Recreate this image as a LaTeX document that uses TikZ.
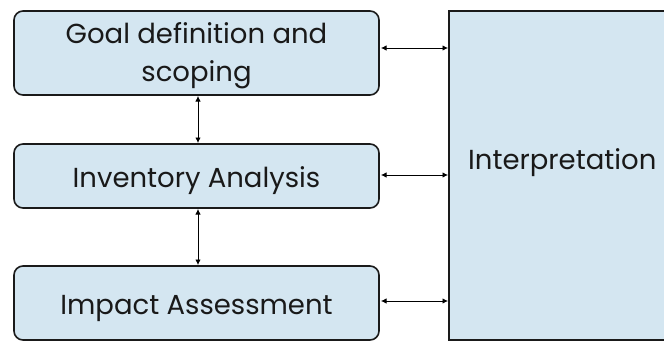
\documentclass[tikz,border=0pt]{standalone}
\usepackage{fontspec}
\setmainfont{Poppins}
\usetikzlibrary{arrows.meta}
\definecolor{boxfill}{HTML}{D4E6F1}
\definecolor{boxline}{HTML}{1A1A1A}
\tikzset{
  stage/.style={draw=boxline, line width=1.6pt, fill=boxfill, rounded corners=9pt},
  lbl/.style={font=\fontsize{27.5}{38}\selectfont, align=center, text=black!90, inner sep=0pt},
  link/.style={{Latex[length=5.5pt,width=5.5pt]}-{Latex[length=5.5pt,width=5.5pt]}, line width=0.8pt, black},
}
\begin{document}
\begin{tikzpicture}[x=1pt,y=-1pt]
\useasboundingbox (0,0) rectangle (664,343);
\clip (0,0) rectangle (664,343);
\path[stage] (14,11) rectangle (379,95);
\path[stage] (14,144) rectangle (379,208);
\path[stage] (14,266) rectangle (379,340);
\draw[draw=boxline, line width=1.4pt, fill=boxfill] (449,11) rectangle (720,340);
\node[lbl] (goal) at (196.5,56) {Goal definition and\\scoping};
\node[lbl] (inv) at (196.5,181) {Inventory Analysis};
\node[lbl] (imp) at (196.5,308) {Impact Assessment};
\node[lbl, anchor=west] (interp) at (468,163) {Interpretation};
\coordinate (g1) at (381,48); \coordinate (g2) at (448,48);
\coordinate (i1) at (381,175); \coordinate (i2) at (448,175);
\coordinate (m1) at (381,301); \coordinate (m2) at (448,301);
\coordinate (v1) at (198,96); \coordinate (v2) at (198,143);
\coordinate (v3) at (198,209); \coordinate (v4) at (198,265);
\draw[link] (g1) -- (g2);
\draw[link] (i1) -- (i2);
\draw[link] (m1) -- (m2);
\draw[link] (v1) -- (v2);
\draw[link] (v3) -- (v4);
\end{tikzpicture}
\end{document}
